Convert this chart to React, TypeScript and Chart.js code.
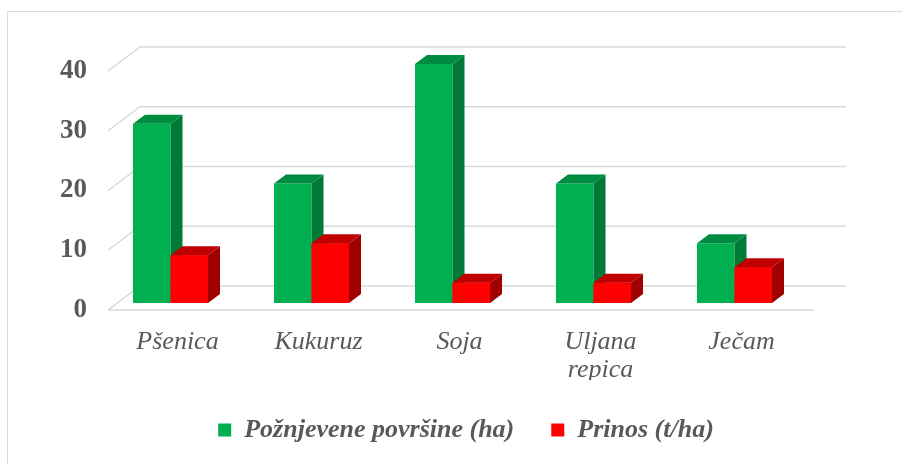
import React, { useEffect, useRef } from "react";
import { Chart, registerables } from "chart.js";

Chart.register(...registerables);

const categories: (string | string[])[] = ["Pšenica", "Kukuruz", "Soja", ["Uljana", "repica"], "Ječam"];
const areaValues = [30, 20, 40, 20, 10];
const yieldValues = [8, 10, 3.4, 3.4, 6];
const seriesNames = ["Požnjevene površine (ha)", "Prinos (t/ha)"];
const yTicks = [0, 10, 20, 30, 40];

const GREEN = { front: "#00B050", side: "#007A36", top: "#008C40" };
const RED = { front: "#FF0000", side: "#A00000", top: "#C00000" };
const GRID = "#d9d9d9";
const TEXT = "#595959";
const FONT = "'Liberation Serif', 'Times New Roman', serif";

const DEPTH_X = 12;
const DEPTH_Y = 9;

const threeD = {
  id: "threeD",
  beforeDatasetsDraw(chart: any) {
    const { ctx, chartArea } = chart;
    const ys = chart.scales.y;
    ctx.save();
    ctx.strokeStyle = GRID;
    ctx.lineWidth = 1.5;
    const backL = chartArea.left + 40;
    const backR = chartArea.right + 41;
    const frontL = chartArea.left + 8;
    const frontR = chartArea.right + 9;
    ys.ticks.forEach((t: any) => {
      const py = ys.getPixelForValue(t.value);
      ctx.beginPath();
      ctx.moveTo(frontL, py + 7);
      ctx.lineTo(backL, py - 17);
      ctx.lineTo(backR, py - 17);
      ctx.stroke();
    });
    const p0 = ys.getPixelForValue(0);
    ctx.beginPath();
    ctx.moveTo(frontL, p0 + 7);
    ctx.lineTo(frontR, p0 + 7);
    ctx.stroke();
    ctx.restore();
  },
  afterDatasetsDraw(chart: any) {
    const { ctx } = chart;
    const m0 = chart.getDatasetMeta(0).data;
    const m1 = chart.getDatasetMeta(1).data;
    const drawFaces = (bar: any, c: any, front: boolean) => {
      const { x, y, base, width } = bar.getProps(["x", "y", "base", "width"], true);
      const l = x - width / 2;
      const r = x + width / 2;
      if (front) {
        ctx.fillStyle = c.front;
        ctx.fillRect(l, y, width, base - y);
      }
      ctx.fillStyle = c.side;
      ctx.beginPath();
      ctx.moveTo(r, y);
      ctx.lineTo(r + DEPTH_X, y - DEPTH_Y);
      ctx.lineTo(r + DEPTH_X, base - DEPTH_Y);
      ctx.lineTo(r, base);
      ctx.closePath();
      ctx.fill();
      ctx.fillStyle = c.top;
      ctx.beginPath();
      ctx.moveTo(l, y);
      ctx.lineTo(l + DEPTH_X, y - DEPTH_Y);
      ctx.lineTo(r + DEPTH_X, y - DEPTH_Y);
      ctx.lineTo(r, y);
      ctx.closePath();
      ctx.fill();
    };
    ctx.save();
    for (let i = 0; i < m0.length; i++) {
      drawFaces(m0[i], GREEN, false);
      drawFaces(m1[i], RED, true);
    }
    ctx.restore();
  },
};

export default function App() {
  const ref = useRef<HTMLCanvasElement>(null);
  useEffect(() => {
    if (!ref.current) return;
    const chart = new Chart(ref.current, {
      type: "bar",
      data: {
        labels: categories as any,
        datasets: [
          { label: seriesNames[0], data: areaValues, backgroundColor: GREEN.front, borderWidth: 0, categoryPercentage: 0.532, barPercentage: 1 },
          { label: seriesNames[1], data: yieldValues, backgroundColor: RED.front, borderWidth: 0, categoryPercentage: 0.532, barPercentage: 1 },
        ],
      },
      options: {
        animation: false,
        responsive: false,
        maintainAspectRatio: false,
        layout: { padding: { left: 30, right: 0, top: 64, bottom: 11 } },
        plugins: {
          tooltip: { enabled: false },
          legend: {
            position: "bottom",
            labels: {
              boxWidth: 13,
              boxHeight: 13,
              padding: 37,
              color: TEXT,
              font: { family: FONT, size: 26, style: "italic", weight: "bold" },
            },
          },
        },
        scales: {
          x: {
            grid: { display: false, drawTicks: false },
            border: { display: false },
            ticks: {
              color: TEXT,
              padding: 25,
              labelOffset: 7,
              maxRotation: 0,
              autoSkip: false,
              font: { family: FONT, size: 26, style: "italic", lineHeight: 1.08 },
            },
            afterFit: (s: any) => { s.height = 77; },
          },
          y: {
            min: 0,
            max: 40,
            grid: { display: false, drawTicks: false },
            border: { display: false },
            afterBuildTicks: (s: any) => { s.ticks = yTicks.map((v) => ({ value: v })); },
            ticks: {
              color: TEXT,
              padding: 13,
              labelOffset: 7,
              font: { family: FONT, size: 27, weight: "bold" },
            },
            afterFit: (s: any) => { s.width = 70; },
          },
          yPad: {
            position: "right",
            grid: { display: false, drawTicks: false },
            border: { display: false },
            ticks: { display: false },
            afterFit: (s: any) => { s.width = 97; },
          },
        },
      },
      plugins: [threeD],
    });
    return () => chart.destroy();
  }, []);
  return (
    <div style={{ position: "fixed", left: 0, top: 0, width: 902, height: 464, overflow: "hidden", background: "#fff" }}>
      <div style={{ position: "absolute", left: 7, top: 11, width: 1000, height: 1000, border: "1.5px solid #d9d9d9" }} />
      <canvas ref={ref} width={902} height={464} style={{ position: "absolute", left: 0, top: 0, width: 902, height: 464 }} />
    </div>
  );
}
